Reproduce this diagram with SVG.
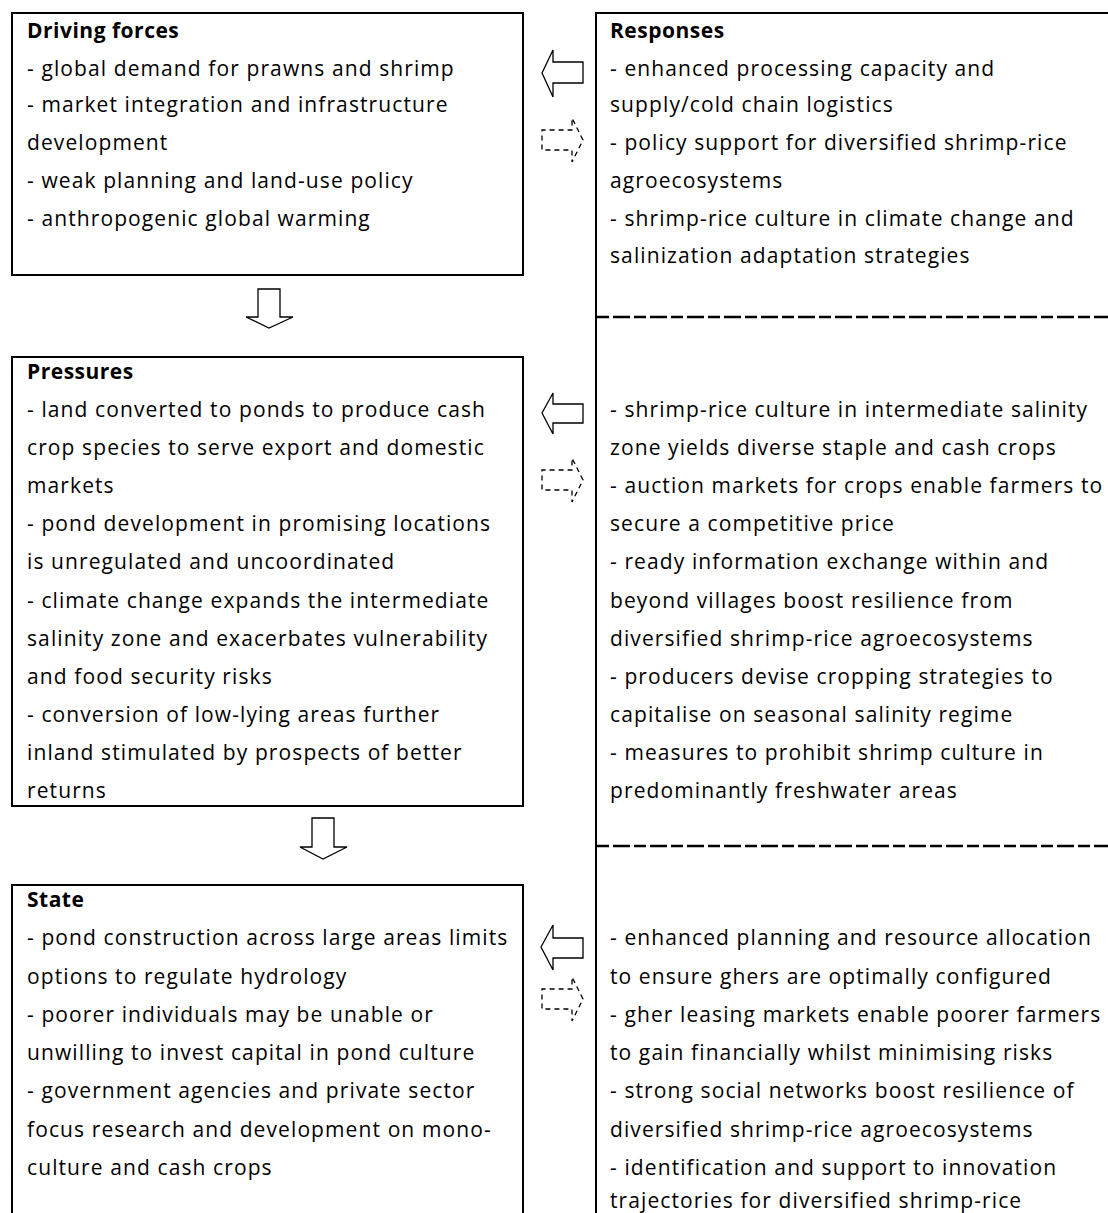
<svg xmlns="http://www.w3.org/2000/svg" width="1108" height="1213" viewBox="0 0 1108 1213">
<style>
.box{fill:none;stroke:#000;stroke-width:2}
.t{font-family:"Open Sans","Noto Sans",sans-serif;font-size:21px;letter-spacing:1.1px;fill:#000}
.h{font-weight:bold;letter-spacing:0.5px}
.arr{fill:#fff;stroke:#000;stroke-width:1.3;stroke-linejoin:miter}
.darr{fill:none;stroke:#000;stroke-width:1.3;stroke-dasharray:5 4}
.sep{stroke:#000;stroke-width:2.5;stroke-dasharray:12 4 17 4}
</style>
<rect width="1108" height="1213" fill="#fff"/>
<g id="driving-forces">
<rect class="box" x="12" y="13" width="511" height="262"/>
<text class="t"><tspan class="h" x="27" y="38">Driving forces</tspan><tspan x="27" y="76">- global demand for prawns and shrimp</tspan><tspan x="27" y="112">- market integration and infrastructure</tspan><tspan x="27" y="150">development</tspan><tspan x="27" y="188">- weak planning and land-use policy</tspan><tspan x="27" y="226">- anthropogenic global warming</tspan></text>
</g>
<g id="pressures">
<rect class="box" x="12" y="357" width="511" height="449"/>
<text class="t"><tspan class="h" x="27" y="379">Pressures</tspan><tspan x="27" y="417">- land converted to ponds to produce cash</tspan><tspan x="27" y="455">crop species to serve export and domestic</tspan><tspan x="27" y="493">markets</tspan><tspan x="27" y="531">- pond development in promising locations</tspan><tspan x="27" y="569">is unregulated and uncoordinated</tspan><tspan x="27" y="608">- climate change expands the intermediate</tspan><tspan x="27" y="646">salinity zone and exacerbates vulnerability</tspan><tspan x="27" y="684">and food security risks</tspan><tspan x="27" y="722">- conversion of low-lying areas further</tspan><tspan x="27" y="760">inland stimulated by prospects of better</tspan><tspan x="27" y="798">returns</tspan></text>
</g>
<g id="state">
<rect class="box" x="12" y="885" width="511" height="340"/>
<text class="t"><tspan class="h" x="27" y="907">State</tspan><tspan x="27" y="945">- pond construction across large areas limits</tspan><tspan x="27" y="984">options to regulate hydrology</tspan><tspan x="27" y="1022">- poorer individuals may be unable or</tspan><tspan x="27" y="1060">unwilling to invest capital in pond culture</tspan><tspan x="27" y="1098">- government agencies and private sector</tspan><tspan x="27" y="1137">focus research and development on mono-</tspan><tspan x="27" y="1175">culture and cash crops</tspan></text>
</g>
<g id="responses">
<path class="box" d="M596 1220 V13 H1110"/>
<line class="sep" x1="597" y1="317" x2="1108" y2="317"/>
<line class="sep" x1="597" y1="846" x2="1108" y2="846"/>
<text class="t"><tspan class="h" x="610" y="38">Responses</tspan><tspan x="610" y="76">- enhanced processing capacity and</tspan><tspan x="610" y="112">supply/cold chain logistics</tspan><tspan x="610" y="150">- policy support for diversified shrimp-rice</tspan><tspan x="610" y="188">agroecosystems</tspan><tspan x="610" y="226">- shrimp-rice culture in climate change and</tspan><tspan x="610" y="263">salinization adaptation strategies</tspan></text>
<text class="t"><tspan x="610" y="417">- shrimp-rice culture in intermediate salinity</tspan><tspan x="610" y="455">zone yields diverse staple and cash crops</tspan><tspan x="610" y="493">- auction markets for crops enable farmers to</tspan><tspan x="610" y="531">secure a competitive price</tspan><tspan x="610" y="569">- ready information exchange within and</tspan><tspan x="610" y="608">beyond villages boost resilience from</tspan><tspan x="610" y="646">diversified shrimp-rice agroecosystems</tspan><tspan x="610" y="684">- producers devise cropping strategies to</tspan><tspan x="610" y="722">capitalise on seasonal salinity regime</tspan><tspan x="610" y="760">- measures to prohibit shrimp culture in</tspan><tspan x="610" y="798">predominantly freshwater areas</tspan></text>
<text class="t"><tspan x="610" y="945">- enhanced planning and resource allocation</tspan><tspan x="610" y="984">to ensure ghers are optimally configured</tspan><tspan x="610" y="1022">- gher leasing markets enable poorer farmers</tspan><tspan x="610" y="1060">to gain financially whilst minimising risks</tspan><tspan x="610" y="1098">- strong social networks boost resilience of</tspan><tspan x="610" y="1137">diversified shrimp-rice agroecosystems</tspan><tspan x="610" y="1175">- identification and support to innovation</tspan><tspan x="610" y="1208">trajectories for diversified shrimp-rice</tspan></text>
</g>
<g id="connectors">
<polygon class="arr" points="542,73 553,50 553,62 583,62 583,83 553,83 553,97"/>
<polygon class="arr" points="542,413 553,393 553,404 583,404 583,423 553,423 553,434"/>
<polygon class="arr" points="541,947 553,925 553,938 583,938 583,958 553,958 553,970"/>
<polygon class="darr" points="583,140 572,118 572,130 542,130 542,150 572,150 572,162"/>
<polygon class="darr" points="583,480 572,458 572,470 542,470 542,490 572,490 572,502"/>
<polygon class="darr" points="583,999 572,977 572,989 542,989 542,1009 572,1009 572,1021"/>
<polygon class="arr" points="258,289 280,289 280,317 293,317 269,328 246,317 258,317"/>
<polygon class="arr" points="312,818 334,818 334,847 347,847 323,859 300,847 312,847"/>
</g>
</svg>
